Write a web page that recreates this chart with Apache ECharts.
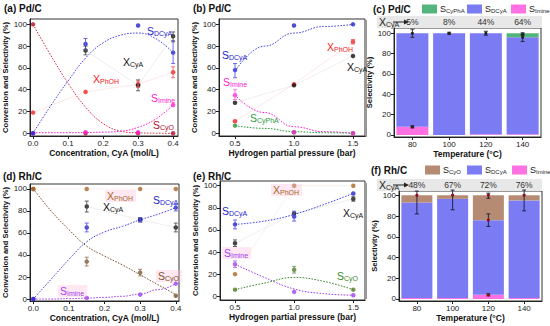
<!DOCTYPE html>
<html><head><meta charset="utf-8">
<script src="https://cdn.jsdelivr.net/npm/echarts@6/dist/echarts.min.js"></script>
<style>html,body{margin:0;padding:0;background:#fff}#c{width:550px;height:326px}</style>
</head><body><div id="c"></div>
<script>
// ================= DATA =================
// Panel (a) Pd/C vs concentration
const concX = [0, 0.15, 0.3, 0.4];
const aS_DCyA = [0, 82, 99, 74];
const aX_PhOH = [19, 38, 45, 56];
const aX_CyA = [null, 76, 44, 89];
const aS_Imine = [0, 1, 1, 26];
const aS_CyO = [100, 0, 0, 0];
const concFitX = [0, 0.05, 0.1, 0.15, 0.2, 0.25, 0.3, 0.35, 0.4];
const aFit_DCyA = [0, 25, 48, 69, 83, 90, 92, 87, 74];
const aFit_CyO = [100, 72, 46, 24, 9, 2, 0.4, 0.1, 0];
const aFit_Imine = [0.5, 0.5, 0.5, 0.7, 1, 1.8, 5.5, 13, 26];
const aErr_DCyA = [[0.15, 77, 87], [0.4, 64, 85]];
const aErr_CyA = [[0.15, 72, 80], [0.3, 39, 49], [0.4, 84, 93]];
const aErr_PhOH = [[0.3, 42, 48], [0.4, 51, 61]];

// Panel (b) Pd/C vs H2 pressure
const presX = [0.5, 1.0, 1.5];
const bS_DCyA = [58, 99, 100];
const bX_PhOH = [11, 45, 84];
const bX_CyA = [28, 44, 71];
const bS_Imine = [35, 1, 0];
const bS_CyPhA = [7, 1, 0];
const presFitX = [0.5, 0.75, 1.0, 1.25, 1.5];
const bFit_DCyA = [57, 80, 92, 98, 100];
const bFit_Imine = [35, 19, 6, 1.5, 0];
const bFit_CyPhA = [7, 4.5, 1.5, 0.5, 0];
const bErr_DCyA = [[0.5, 51, 64]];
const bErr_Imine = [[0.5, 31, 40]];
const bErr_PhOH = [[1.5, 82, 86]];

// Panel (c) Pd/C vs temperature (stacked selectivity)
const tempCats = ['80', '100', '120', '140'];
const cS_Imine = [8, 0, 0.8, 0.8];
const cS_DCyA = [92, 100, 99.2, 95.2];
const cS_CyPhA = [0, 0, 0, 4];
const cX_CyA = ['5%', '8%', '44%', '64%'];
const cErr = [[0, 96, 104, 100], [0, 7, 9, 8], [1, 99, 101, 100], [2, 98, 102, 100], [3, 98, 100.5, 99], [3, 92, 99, 96]];

// Panel (d) Rh/C vs concentration
const dX_PhOH = [100, 100, 100, 100];
const dX_CyA = [null, 84, 72, 65];
const dS_DCyA = [0, 65, 72, 83];
const dS_CyO = [100, 34, 24, 3];
const dS_Imine = [0, 1, 4, 14];
const dFit_DCyA = [0, 18, 36, 52, 61, 66, 72, 77, 83];
const dFit_CyO = [100, 80, 63, 48, 39, 31, 22, 13, 4];
const dFit_Imine = [0, 0, 0.3, 0.8, 1.5, 2.5, 4.5, 8.5, 14];
const dErr_CyA = [[0.15, 79, 89], [0.3, 70, 74], [0.4, 61, 69]];
const dErr_DCyA = [[0.15, 61, 69], [0.3, 70, 74], [0.4, 80, 86]];
const dErr_CyO = [[0.15, 30, 38], [0.3, 21, 27]];

// Panel (e) Rh/C vs H2 pressure
const eX_PhOH = [20, 100, 100];
const eX_CyA = [48, 75, 88];
const eS_DCyA = [65, 72, 93];
const eS_Imine = [29, 4, 1];
const eS_CyO = [6, 24, 6];
const eFit_DCyA = [65, 68, 74, 83, 93];
const eFit_Imine = [29, 17, 6.6, 2.4, 1];
const eFit_CyO = [6, 12, 17, 13.5, 6];
const eErr_CyA = [[0.5, 45, 51], [1.5, 86, 90]];
const eErr_DCyA = [[0.5, 61, 69], [1.0, 68, 77]];
const eErr_Imine = [[0.5, 26, 32]];
const eErr_CyO = [[1.0, 21, 27]];

// Panel (f) Rh/C vs temperature (stacked selectivity)
const fS_Imine = [1, 1, 4, 1];
const fS_DCyA = [92, 95.5, 72, 94];
const fS_CyO = [7, 3.5, 24, 5];
const fX_CyA = ['48%', '67%', '72%', '76%'];
const fErr = [[0, 82, 104, 100], [1, 86, 105, 100], [2, 97, 102, 100], [2, 70, 82, 76], [2, 3, 5, 4], [3, 85, 105, 100]];

const concTicks = [0, 0.1, 0.2, 0.3, 0.4];
const presTicks = [0.5, 1.0, 1.5];
const pctTicks = [0, 20, 40, 60, 80, 100];

// ================= STYLE =================
const FF = 'Liberation Sans, Arial, sans-serif';
const C = {
  blue: '#2323cf', blueFit: '#4646e6', red: '#f02222', black: '#111111',
  mag: '#ff22d2', dred: '#b0102c', green: '#2a9a3a', brown: '#a86626',
  dbrown: '#7a5430', purple: '#a040f0', egreen: '#3a8a2a',
  barBlue: '#7b7bf3', barPink: '#ff70e2', barGreen: '#52b67c', barBrown: '#b58b74'
};

const chart = echarts.init(document.getElementById('c'), null, { renderer: 'svg' });

const grids = [
  { left: 30, top: 19, width: 148, height: 117 },
  { left: 219, top: 19, width: 146, height: 117 },
  { left: 394, top: 28, width: 147, height: 109 },
  { left: 30, top: 184, width: 149, height: 117 },
  { left: 220, top: 181, width: 145, height: 119 },
  { left: 399, top: 191, width: 143, height: 110 }
].map(g => Object.assign({ show: true, borderColor: '#333', borderWidth: 1, containLabel: false }, g));

const nameStyle = { fontFamily: FF, fontWeight: 'bold', fontSize: 8.5, color: '#111' };
const yNameStyle = { fontFamily: FF, fontWeight: 'bold', fontSize: 7.6, color: '#111' };
const lblStyle = { fontFamily: FF, fontSize: 8, color: '#222', margin: 3 };

function valX(gi, min, max, ticks, name) {
  return {
    type: 'value', gridIndex: gi, min, max, name, nameLocation: 'middle', nameGap: 12, nameTextStyle: nameStyle,
    axisLine: { show: true, onZero: false, lineStyle: { color: '#222', width: 1 } },
    axisTick: { show: true, inside: false, length: 3, customValues: ticks, lineStyle: { color: '#222' } },
    axisLabel: Object.assign({ customValues: ticks, formatter: v => Number(v).toFixed(1) }, lblStyle),
    splitLine: { show: false }
  };
}
function valY(gi, min, max, name, gap) {
  return {
    type: 'value', gridIndex: gi, min, max, name, nameLocation: 'middle', nameGap: gap, nameRotate: 90, nameTextStyle: yNameStyle,
    axisLine: { show: true, onZero: false, lineStyle: { color: '#222', width: 1 } },
    axisTick: { show: true, inside: false, length: 3, customValues: pctTicks, lineStyle: { color: '#222' } },
    axisLabel: Object.assign({ customValues: pctTicks }, lblStyle),
    splitLine: { show: false }
  };
}
function catX(gi, name) {
  return {
    type: 'category', gridIndex: gi, data: tempCats, name, nameLocation: 'middle', nameGap: 12, nameTextStyle: nameStyle,
    axisLine: { show: true, onZero: false, lineStyle: { color: '#222', width: 1 } },
    axisTick: { show: true, alignWithLabel: true, length: 3, lineStyle: { color: '#222' } },
    axisLabel: lblStyle, splitLine: { show: false }
  };
}
function topX(gi, labels) {
  return {
    type: 'category', gridIndex: gi, position: 'top', data: labels,
    axisLine: { show: false }, axisTick: { show: false },
    axisLabel: { fontFamily: FF, fontSize: 8.5, color: '#333', margin: 2 }, splitLine: { show: false }
  };
}

const xAxes = [
  valX(0, -0.0086, 0.414, concTicks, 'Concentration, CyA (mol/L)'),
  valX(1, 0.3644, 1.6017, presTicks, 'Hydrogen partial pressure (bar)'),
  catX(2, 'Temperature (°C)'),
  valX(3, -0.0093, 0.409, concTicks, 'Concentration, CyA (mol/L)'),
  valX(4, 0.3732, 1.5989, presTicks, 'Hydrogen partial pressure (bar)'),
  catX(5, 'Temperature (°C)'),
  topX(2, cX_CyA),
  topX(5, fX_CyA)
];
const yAxes = [
  valY(0, -2.5, 104.9, 'Conversion and Selectivity (%)', 15),
  valY(1, -2.5, 104.9, 'Conversion and Selectivity (%)', 15),
  valY(2, -1.97, 105.2, 'Selectivity (%)', 14),
  valY(3, -1.8, 104.5, 'Conversion and Selectivity (%)', 15),
  valY(4, -3.35, 104.25, 'Conversion and Selectivity (%)', 15),
  valY(5, -1.93, 104.1, 'Selectivity (%)', 14)
];

function zip(xs, ys) { return xs.map((x, i) => [x, ys[i]]).filter(d => d[1] !== null); }
function pts(gi, xs, ys, color) {
  return { type: 'scatter', xAxisIndex: gi, yAxisIndex: gi, data: zip(xs, ys), symbol: 'circle', symbolSize: 4.5,
    itemStyle: { color }, z: 6, silent: true, clip: false };
}
function fit(gi, xs, ys, color, mono) {
  const s = { type: 'line', xAxisIndex: gi, yAxisIndex: gi, data: zip(xs, ys), smooth: 0.45,
    showSymbol: false, symbol: 'none',
    lineStyle: { color, width: 1, type: [1.6, 1.4] }, z: 4, silent: true, clip: false };
  if (mono) s.smoothMonotone = 'x';
  return s;
}
function faint(gi, xs, ys, color) {
  return { type: 'line', xAxisIndex: gi, yAxisIndex: gi, data: zip(xs, ys), showSymbol: false, symbol: 'none',
    lineStyle: { color, width: 1, opacity: 0.1 }, z: 2, silent: true };
}
function err(gi, xIdx, rows, color, dot) {
  return {
    type: 'custom', xAxisIndex: xIdx, yAxisIndex: gi, data: rows, z: 7, silent: true,
    encode: { x: 0, y: [1, 2] },
    renderItem: function (params, api) {
      const x = api.value(0), lo = api.value(1), hi = api.value(2);
      const p1 = api.coord([x, lo]), p2 = api.coord([x, hi]);
      const w = 2, st = { stroke: color, lineWidth: 0.9 };
      const ch = [
        { type: 'line', shape: { x1: p1[0], y1: p1[1], x2: p2[0], y2: p2[1] }, style: st },
        { type: 'line', shape: { x1: p1[0] - w, y1: p1[1], x2: p1[0] + w, y2: p1[1] }, style: st },
        { type: 'line', shape: { x1: p2[0] - w, y1: p2[1], x2: p2[0] + w, y2: p2[1] }, style: st }
      ];
      if (dot) {
        const pc = api.coord([x, api.value(3)]);
        ch.push({ type: 'circle', shape: { cx: pc[0], cy: pc[1], r: 1.6 }, style: { fill: dot } });
      }
      return { type: 'group', children: ch };
    }
  };
}
function bar(gi, name, data, color, width) {
  return { type: 'bar', name, xAxisIndex: gi, yAxisIndex: gi, data, stack: 's' + gi, barWidth: width,
    itemStyle: { color }, z: 3, silent: true };
}

const series = [
  // (a)
  faint(0, concX, aX_PhOH, C.red), faint(0, concX, aX_CyA, '#555'),
  fit(0, concFitX, aFit_DCyA, C.blueFit), fit(0, concFitX, aFit_CyO, '#d83048'), fit(0, concFitX, aFit_Imine, C.mag),
  err(0, 0, aErr_DCyA, '#5a5ae8'), err(0, 0, aErr_CyA, '#555'), err(0, 0, aErr_PhOH, '#f06060'),
  pts(0, concX, aS_CyO, C.dred), pts(0, concX, aS_Imine, C.mag), pts(0, concX, aX_PhOH, C.red),
  pts(0, concX, aX_CyA, C.black), pts(0, concX, aS_DCyA, C.blue),
  // (b)
  faint(1, presX, bX_PhOH, C.red), faint(1, presX, bX_CyA, '#555'),
  fit(1, presFitX, bFit_DCyA, C.blueFit, true), fit(1, presFitX, bFit_Imine, C.mag, true), fit(1, presFitX, bFit_CyPhA, C.green, true),
  err(1, 1, bErr_DCyA, '#5a5ae8'), err(1, 1, bErr_Imine, '#ff70e0'), err(1, 1, bErr_PhOH, '#f06060'),
  pts(1, presX, bS_CyPhA, C.green), pts(1, presX, bS_Imine, C.mag), pts(1, presX, bX_PhOH, C.red),
  pts(1, presX, bX_CyA, C.black), pts(1, presX, bS_DCyA, C.blue),
  // (c)
  bar(2, 'cImine', cS_Imine, C.barPink, 32), bar(2, 'cDCyA', cS_DCyA, C.barBlue, 32), bar(2, 'cCyPhA', cS_CyPhA, C.barGreen, 32),
  err(2, 2, cErr, '#222', '#222'),
  // (d)
  faint(3, concX, dX_PhOH, '#e06080'), faint(3, concX, dX_CyA, '#555'),
  fit(3, concFitX, dFit_DCyA, C.blueFit), fit(3, concFitX, dFit_CyO, C.dbrown), fit(3, concFitX, dFit_Imine, C.purple, true),
  err(3, 3, dErr_CyA, '#555'), err(3, 3, dErr_DCyA, '#5a5ae8'), err(3, 3, dErr_CyO, '#9a7a5a'),
  pts(3, concX, dS_Imine, C.purple), pts(3, concX, dS_CyO, C.dbrown), pts(3, concX, dX_PhOH, C.brown),
  pts(3, concX, dX_CyA, C.black), pts(3, concX, dS_DCyA, C.blue),
  // (e)
  faint(4, presX, eX_PhOH, '#c08040'), faint(4, presX, eX_CyA, '#555'),
  fit(4, presFitX, eFit_DCyA, C.blueFit), fit(4, presFitX, eFit_Imine, C.purple), fit(4, presFitX, eFit_CyO, C.egreen),
  err(4, 4, eErr_CyA, '#555'), err(4, 4, eErr_DCyA, '#5a5ae8'), err(4, 4, eErr_Imine, '#b070f0'), err(4, 4, eErr_CyO, '#6a9a5a'),
  pts(4, presX, eS_CyO, '#557a2a'), pts(4, presX, eS_Imine, C.purple), pts(4, presX, eX_PhOH, C.brown),
  pts(4, presX, eX_CyA, C.black), pts(4, presX, eS_DCyA, C.blue),
  // (f)
  bar(5, 'fImine', fS_Imine, C.barPink, 31), bar(5, 'fDCyA', fS_DCyA, C.barBlue, 31), bar(5, 'fCyO', fS_CyO, C.barBrown, 31),
  err(5, 5, fErr, '#1a1a3a', '#8a1020')
];

const legNames = { cCyPhA: ['S', 'CyPhA'], cDCyA: ['S', 'DCyA'], cImine: ['S', 'Imine'], fCyO: ['S', 'CyO'], fDCyA: ['S', 'DCyA'], fImine: ['S', 'Imine'] };
function leg(name, left, top) {
  return {
    data: [name], left, top, padding: 0, itemWidth: 15, itemHeight: 9, itemGap: 3, icon: 'rect', selectedMode: false,
    formatter: n => '{m|' + legNames[n][0] + '}{s|' + legNames[n][1] + '}',
    textStyle: { fontFamily: FF, color: '#222', padding: [0, 0, 0, -2],
      rich: { m: { fontSize: 9, fontFamily: FF, color: '#222', lineHeight: 10, verticalAlign: 'top' },
              s: { fontSize: 6, fontFamily: FF, color: '#222', lineHeight: 6, padding: [5, 0, 0, 0], verticalAlign: 'bottom' } } }
  };
}

function lab(x, cy, main, sub, color, bg) {
  return {
    type: 'text', x, y: cy, z: 50,
    style: {
      text: '{m|' + main + '}{s|' + sub + '}', align: 'left', verticalAlign: 'middle',
      backgroundColor: bg || 'transparent', padding: bg ? [0, 3, 0, 2] : 0,
      rich: {
        m: { fontSize: 10.5, fontFamily: FF, fill: color, color, lineHeight: 12, verticalAlign: 'top' },
        s: { fontSize: 7, fontFamily: FF, fill: color, color, lineHeight: 8, padding: [6, 0, 0, 0], verticalAlign: 'bottom' }
      }
    }
  };
}
function title(x, cy, t) {
  return { type: 'text', x, y: cy, z: 50, style: { text: t, font: 'bold 10px ' + FF, fill: '#111', align: 'left', verticalAlign: 'middle' } };
}
function band(y) {
  return [
    { type: 'rect', z: 0, shape: { x: 377, y: y - 6, width: 165, height: 12 }, style: { fill: '#e8e8e8' } },
    lab(379, y, 'X', 'CyA', '#222'),
    { type: 'line', z: 50, shape: { x1: 393, y1: y, x2: 405, y2: y }, style: { stroke: '#222', lineWidth: 1 } },
    { type: 'polygon', z: 50, shape: { points: [[409, y], [404, y - 2.5], [404, y + 2.5]] }, style: { fill: '#222' } }
  ];
}
const PINK = 'rgba(255,190,215,0.35)';

const graphic = [
  { type: 'rect', z: 0, shape: { x: 365, y: 20, width: 2, height: 117 }, style: { fill: '#999' } },
  { type: 'rect', z: 0, shape: { x: 365, y: 183, width: 2, height: 116 }, style: { fill: '#999' } },
  ...band(22), ...band(185),
  title(4, 8, '(a) Pd/C'), title(193, 8, '(b) Pd/C'), title(373, 9, '(c) Pd/C'),
  title(3, 176, '(d) Rh/C'), title(193, 176, '(e) Rh/C'), title(371, 170, '(f) Rh/C'),
  // (a)
  lab(147, 31, 'S', 'DCyA', C.blue), lab(123, 62, 'X', 'CyA', C.black), lab(93, 79, 'X', 'PhOH', C.red),
  lab(151, 98, 'S', 'Imine', C.mag), lab(153, 125, 'S', 'CyO', C.dred),
  // (b)
  lab(222, 55, 'S', 'DCyA', C.blue), lab(327, 47, 'X', 'PhOH', C.red), lab(347, 67, 'X', 'CyA', C.black),
  lab(223, 82, 'S', 'Imine', C.mag), lab(250, 118, 'S', 'CyPhA', C.green),
  // (d)
  lab(105, 196, 'X', 'PhOH', C.brown, PINK), lab(103, 207, 'X', 'CyA', C.black), lab(153, 200, 'S', 'DCyA', C.blue),
  lab(156, 276, 'S', 'CyO', C.dbrown, PINK), lab(58, 291, 'S', 'Imine', C.purple, PINK),
  // (e)
  lab(271, 190, 'X', 'PhOH', C.brown, PINK), lab(222, 211, 'S', 'DCyA', C.blue), lab(343, 213, 'X', 'CyA', C.black),
  lab(222, 253, 'S', 'Imine', C.purple, PINK), lab(337, 276, 'S', 'CyO', C.egreen)
];

chart.setOption({
  backgroundColor: '#fff',
  animation: false,
  textStyle: { fontFamily: FF },
  grid: grids,
  xAxis: xAxes,
  yAxis: yAxes,
  legend: [leg('cCyPhA', 422, 3), leg('cDCyA', 467, 3), leg('cImine', 511, 3),
           leg('fCyO', 425, 164), leg('fDCyA', 467, 164), leg('fImine', 512, 164)],
  series,
  graphic
});
</script>
</body></html>
